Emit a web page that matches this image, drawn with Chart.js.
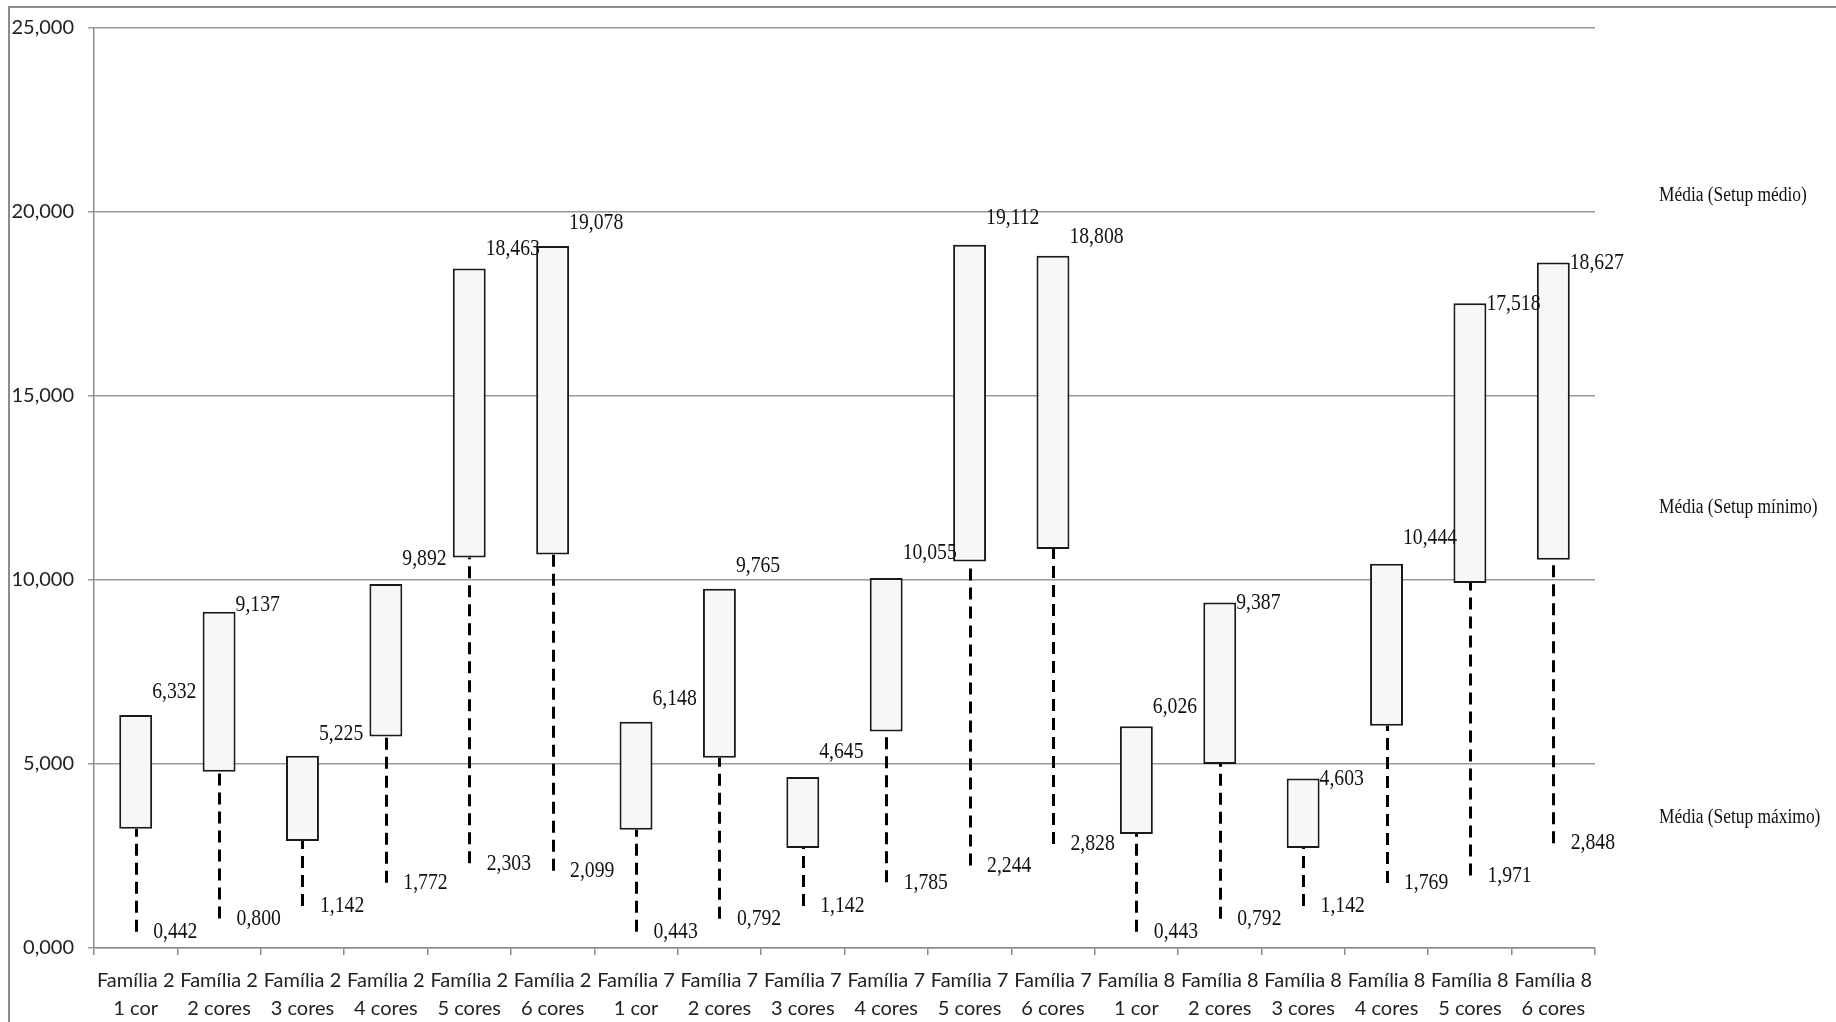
<!DOCTYPE html>
<html>
<head>
<meta charset="utf-8">
<script src="https://cdn.jsdelivr.net/npm/chart.js@4.4.0/dist/chart.umd.min.js"></script>
<style>
  body { margin: 0; background: #fff; }
  #wrap { width: 1836px; height: 1022px; }
</style>
</head>
<body>
<div id="wrap"><canvas id="chart1" width="1836" height="1022"></canvas></div>
<script>
// categories (two-line labels)
var familias = ['Família 2', 'Família 2', 'Família 2', 'Família 2', 'Família 2', 'Família 2',
                'Família 7', 'Família 7', 'Família 7', 'Família 7', 'Família 7', 'Família 7',
                'Família 8', 'Família 8', 'Família 8', 'Família 8', 'Família 8', 'Família 8'];
var cores = ['1 cor', '2 cores', '3 cores', '4 cores', '5 cores', '6 cores',
             '1 cor', '2 cores', '3 cores', '4 cores', '5 cores', '6 cores',
             '1 cor', '2 cores', '3 cores', '4 cores', '5 cores', '6 cores'];
// box top (labelled), box bottom, whisker low (labelled)
var boxTop = [6.332, 9.137, 5.225, 9.892, 18.463, 19.078,
              6.148, 9.765, 4.645, 10.055, 19.112, 18.808,
              6.026, 9.387, 4.603, 10.444, 17.518, 18.627];
var boxBottom = [3.24, 4.79, 2.91, 5.75, 10.61, 10.69,
                 3.21, 5.17, 2.72, 5.88, 10.50, 10.84,
                 3.10, 5.00, 2.72, 6.04, 9.92, 10.55];
var lowValues = [0.442, 0.800, 1.142, 1.772, 2.303, 2.099,
                 0.443, 0.792, 1.142, 1.785, 2.244, 2.828,
                 0.443, 0.792, 1.142, 1.769, 1.971, 2.848];
var yTicks = [0, 5, 10, 15, 20, 25];
var seriesNames = ['Média (Setup médio)', 'Média (Setup mínimo)', 'Média (Setup máximo)'];

// label style: how far the top label sits above its box (px)
var topLabelLift = [23, 7, 22, 25, 20, 23, 23, 23, 25, 25, 27, 19, 20, 0, 0, 26, 0, 0];

function fmt(v) { return v.toFixed(3).replace('.', ','); }

function squashText(ctx, text, x, y, size, sx) {
  ctx.save();
  ctx.translate(x, y);
  ctx.scale(sx, 1);
  ctx.font = size + 'px "Liberation Serif"';
  ctx.textBaseline = 'middle';
  ctx.textAlign = 'left';
  ctx.fillStyle = '#111';
  ctx.fillText(text, 0, 0);
  ctx.restore();
}

var labels = familias.map(function (f, i) { return [f, cores[i]]; });
var ranges = boxTop.map(function (t, i) { return [boxBottom[i], t]; });

// frame + white background
var framePlugin = {
  id: 'frame',
  beforeDraw: function (chart) {
    var ctx = chart.ctx;
    ctx.save();
    ctx.fillStyle = '#fff';
    ctx.fillRect(0, 0, chart.width, chart.height);
    ctx.strokeStyle = '#8c8c8c';
    ctx.lineWidth = 2;
    ctx.beginPath();
    ctx.moveTo(9, chart.height);
    ctx.lineTo(9, 7);
    ctx.lineTo(chart.width, 7);
    ctx.stroke();
    ctx.restore();
  }
};

// dashed high-low lines under the boxes, value labels on top
var whiskerPlugin = {
  id: 'whiskers',
  beforeDatasetsDraw: function (chart) {
    var ctx = chart.ctx, x = chart.scales.x, y = chart.scales.y;
    ctx.save();
    ctx.strokeStyle = '#000';
    ctx.lineWidth = 3;
    ctx.setLineDash([12, 7]);
    lowValues.forEach(function (lo, i) {
      var px = Math.round(x.getPixelForValue(i)) + 0.5;
      ctx.beginPath();
      ctx.moveTo(px, y.getPixelForValue(lo));
      ctx.lineTo(px, y.getPixelForValue(boxBottom[i]));
      ctx.stroke();
    });
    ctx.restore();
  },
  afterDatasetsDraw: function (chart) {
    var ctx = chart.ctx, x = chart.scales.x, y = chart.scales.y;
    var meta = chart.getDatasetMeta(0);
    boxTop.forEach(function (top, i) {
      var half = meta.data[i].width / 2;
      var lx = x.getPixelForValue(i) + half;
      squashText(ctx, fmt(top), lx, y.getPixelForValue(top) - topLabelLift[i], 24, 0.82);
      squashText(ctx, fmt(lowValues[i]), lx + 1, y.getPixelForValue(lowValues[i]), 24, 0.82);
    });
    // series names on the right
    var ly = [196, 508, 818];
    seriesNames.forEach(function (n, k) {
      squashText(ctx, n, 1659, ly[k], 20, 0.87);
    });
  }
};

var ctx1 = document.getElementById('chart1');
new Chart(ctx1, {
  type: 'bar',
  data: {
    labels: labels,
    datasets: [{
      data: ranges,
      backgroundColor: '#f7f7f7',
      borderColor: '#1a1a1a',
      borderWidth: 2,
      borderSkipped: false,
      barPercentage: 0.395,
      categoryPercentage: 1
    }]
  },
  options: {
    responsive: false,
    animation: false,
    layout: { padding: { left: 0, top: 28, right: 241, bottom: 0 } },
    plugins: {
      legend: { display: false },
      tooltip: { enabled: false }
    },
    scales: {
      x: {
        offset: true,
        grid: { offset: true, drawOnChartArea: false, drawTicks: true, tickLength: 7, color: '#8c8c8c', lineWidth: 1.5 },
        border: { color: '#8c8c8c', width: 1.5 },
        ticks: {
          color: '#222',
          font: { family: 'Lato', size: 20, lineHeight: 1.4 },
          padding: 12,
          maxRotation: 0,
          autoSkip: false
        },
        afterFit: function (s) { s.height = 74; }
      },
      y: {
        min: 0,
        max: 25,
        afterBuildTicks: function (s) { s.ticks = yTicks.map(function (v) { return { value: v }; }); },
        grid: { color: '#9a9a9a', lineWidth: 1.5, tickLength: 6 },
        border: { color: '#8c8c8c', width: 1.5 },
        ticks: {
          color: '#222',
          font: { family: 'Lato', size: 20 },
          padding: 14,
          callback: function (v) { return fmt(v); }
        },
        afterFit: function (s) { s.width = 94; }
      }
    }
  },
  plugins: [framePlugin, whiskerPlugin]
});
</script>
</body>
</html>
